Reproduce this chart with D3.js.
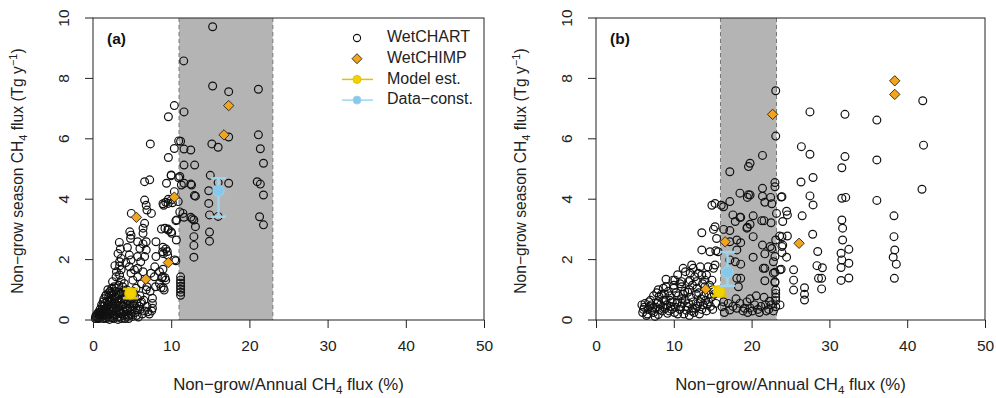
<!DOCTYPE html>
<html>
<head>
<meta charset="utf-8">
<script src="https://cdn.jsdelivr.net/npm/d3@7"></script>
<style>
  body { margin: 0; background: #fff; }
  svg { font-family: "Liberation Sans", Arial, sans-serif; }
</style>
</head>
<body>
<div id="chart"></div>
<script>
// axis ticks
const xTicks = [0, 10, 20, 30, 40, 50];
const yTicks = [0, 2, 4, 6, 8, 10];

// shaded ranges (%)
const shadeA = [11, 23];
const shadeB = [16, 23.2];

// WetCHART ensemble, panel (a): [non-grow/annual %, non-grow flux Tg/y]
const wetchartA = [
  [15.3, 9.71], [11.6, 8.58], [15.3, 7.75], [17.35, 7.56], [21.15, 7.64], [10.4, 7.1], [9.64, 6.73], [11.64, 6.89],
  [17.35, 6.06], [21.15, 6.13], [10.96, 5.93], [11.2, 5.92], [15.2, 5.83], [16.0, 5.72], [21.4, 5.67], [10.4, 5.68],
  [11.64, 5.66], [12.5, 5.63], [9.64, 5.38], [11.64, 5.13], [13.0, 5.13], [21.8, 5.19], [7.33, 5.83],
  [10.0, 4.78], [10.96, 4.71], [11.64, 4.53], [12.5, 4.5], [15.0, 4.79], [16.0, 4.55], [17.35, 4.53], [21.0, 4.58],
  [21.4, 4.5], [21.8, 4.14], [12.97, 4.12], [13.1, 4.1], [14.8, 4.28], [14.8, 3.86],
  [8.95, 3.85], [9.3, 3.9], [10.0, 3.97], [9.64, 4.0], [11.1, 3.58], [11.64, 3.4], [12.5, 3.4], [12.7, 3.35],
  [12.9, 3.31], [10.6, 3.29], [14.9, 3.48], [16.0, 3.43], [21.3, 3.42], [21.8, 3.15], [13.1, 3.09], [14.9, 2.91],
  [14.9, 2.61], [12.9, 2.76], [12.9, 2.47], [12.9, 2.08],
  [8.75, 3.01], [9.6, 3.01], [10.06, 2.87], [10.66, 2.65], [8.95, 2.41], [9.5, 2.27], [9.0, 2.2], [10.6, 1.96],
  [8.95, 1.68], [8.8, 1.4], [9.2, 1.4], [8.7, 1.08], [9.0, 1.06],
  [11.2, 1.43], [11.2, 1.32], [11.2, 1.22], [11.2, 1.12], [11.2, 1.02], [11.2, 0.92], [11.2, 0.82],
  [10.0, 4.8], [11.1, 4.75], [9.4, 4.53], [6.6, 4.58], [7.25, 4.64], [10.4, 4.25], [11.3, 4.47], [12.6, 4.47],
  [9.04, 3.8], [9.6, 3.86], [10.15, 3.88], [6.6, 3.97], [6.8, 3.8], [6.9, 3.64], [4.9, 3.53], [7.47, 3.53],
  [10.9, 3.92], [11.5, 3.53], [10.7, 3.31],
  [9.2, 3.04], [9.6, 2.98], [10.0, 2.92], [6.6, 3.2], [6.4, 3.04], [6.4, 2.87], [4.7, 2.92], [4.86, 2.81],
  [4.8, 2.7], [3.37, 2.57], [5.7, 2.59], [6.4, 2.52], [6.8, 2.59], [8.05, 2.59], [6.0, 2.37],
  [3.6, 2.04], [3.4, 1.93], [3.4, 1.79], [4.65, 2.15], [4.86, 1.99], [5.7, 2.1], [6.1, 1.93], [6.8, 2.32],
  [6.6, 2.1], [8.05, 2.1], [8.9, 2.26], [9.3, 2.35], [9.55, 2.15], [10.45, 1.99], [7.9, 1.76],
  [3.6, 1.66], [3.4, 1.49], [3.6, 1.32], [4.0, 1.21], [4.65, 1.76], [4.86, 1.55], [5.3, 1.66], [5.7, 1.71],
  [6.4, 1.6], [5.7, 1.43], [5.1, 1.32], [7.4, 1.55], [7.85, 1.43], [8.5, 1.6], [8.9, 1.43], [8.5, 1.21],
  [9.3, 1.32], [9.1, 0.99], [7.6, 0.72], [7.6, 0.55], [7.6, 0.39], [6.1, 0.55], [5.7, 0.33], [7.0, 0.27],
  [2.95, 1.43], [2.5, 1.27], [2.7, 1.1], [1.9, 1.0], [1.7, 0.83], [2.3, 0.88], [3.0, 1.6], [2.8, 1.8],
  [3.2, 2.2], [3.5, 2.35], [4.2, 1.9], [4.4, 2.4], [6.2, 1.2], [6.9, 1.1], [7.3, 0.95], [8.0, 1.1],
  [0.3, 0.05], [0.5, 0.1], [0.6, 0.05], [0.8, 0.15], [0.9, 0.08], [1.0, 0.2], [1.1, 0.12], [1.2, 0.3],
  [1.3, 0.05], [1.4, 0.22], [1.5, 0.35], [1.6, 0.15], [1.7, 0.4], [1.8, 0.28], [1.9, 0.1], [2.0, 0.5],
  [2.1, 0.35], [2.2, 0.2], [2.3, 0.6], [2.4, 0.45], [2.5, 0.08], [2.6, 0.3], [2.7, 0.7], [2.8, 0.55],
  [2.9, 0.18], [3.0, 0.4], [3.1, 0.8], [3.2, 0.62], [3.3, 0.25], [3.4, 0.1], [3.5, 0.48], [3.6, 0.9],
  [3.7, 0.7], [3.8, 0.35], [3.9, 0.15], [4.0, 0.55], [4.1, 0.95], [4.2, 0.78], [4.3, 0.3], [4.4, 0.12],
  [4.5, 0.6], [4.7, 0.4], [4.8, 0.2], [5.0, 0.7], [5.2, 0.45], [5.4, 0.25], [5.6, 0.55], [5.8, 0.1],
  [6.0, 0.35], [6.3, 0.2], [7.5, 0.3], [1.5, 0.55], [2.0, 0.75], [2.6, 0.9], [3.0, 1.05], [3.3, 1.15],
  [2.2, 0.95], [1.2, 0.45], [0.7, 0.25], [0.4, 0.15], [0.9, 0.35], [1.8, 0.62], [2.4, 0.82], [3.8, 1.1],
  [4.3, 1.0], [4.6, 0.85], [5.1, 0.95], [5.5, 1.05], [6.0, 0.8], [6.5, 0.65], [6.8, 1.0], [1.1, 0.5],
  [1.4, 0.7], [1.7, 0.05], [2.1, 0.02], [2.7, 0.15], [3.2, 0.02], [3.6, 0.2], [4.1, 0.05], [4.6, 0.15],
  [0.35, 0.12], [0.55, 0.2], [0.75, 0.05], [0.95, 0.25], [1.15, 0.35], [1.25, 0.15], [1.45, 0.45], [1.55, 0.08],
  [1.65, 0.3], [1.85, 0.5], [1.95, 0.2], [2.05, 0.62], [2.15, 0.1], [2.25, 0.42], [2.35, 0.3], [2.45, 0.7],
  [2.55, 0.52], [2.65, 0.05], [2.75, 0.38], [2.85, 0.75], [2.95, 0.28], [3.05, 0.6], [3.15, 0.1], [3.25, 0.45],
  [3.35, 0.85], [3.45, 0.32], [3.55, 0.68], [3.65, 0.05], [3.75, 0.5], [3.85, 0.82], [3.95, 0.28], [4.05, 0.7],
  [4.15, 0.42], [4.25, 0.18], [4.35, 0.62], [4.45, 0.35], [4.55, 0.05], [4.65, 0.72], [4.75, 0.55], [4.9, 0.3],
  [5.05, 0.12], [5.15, 0.58], [5.3, 0.8], [5.45, 0.4], [5.55, 0.15], [5.7, 0.7], [5.9, 0.45], [6.2, 0.6],
  [6.6, 0.3], [6.9, 0.45], [7.2, 0.2], [1.3, 0.6], [1.6, 0.8], [2.0, 0.9], [2.4, 1.05], [2.9, 0.95]
];

const wetchimpA = [[17.35, 7.1], [16.75, 6.13], [10.4, 4.07], [5.55, 3.4], [9.64, 1.9], [6.75, 1.35]];

// [x, y, yLow, yHigh]
const modelA = [[4.8, 0.88, 0.72, 1.03]];
const dataConstA = [[16.05, 4.28, 3.42, 4.69]];

// WetCHART ensemble, panel (b)
const wetchartB = [
  [42.0, 7.26], [27.5, 6.89], [32.0, 6.81], [36.1, 6.62], [42.1, 5.79], [26.4, 5.74], [27.5, 5.49], [32.0, 5.41],
  [31.6, 5.04], [36.1, 5.3], [27.9, 4.72], [26.35, 4.57], [41.9, 4.33], [23.9, 4.08], [27.5, 4.11], [27.9, 3.81],
  [31.6, 4.03], [32.1, 4.06], [36.1, 3.96], [24.6, 3.48], [24.0, 3.26], [26.5, 3.45], [31.6, 3.31], [31.7, 3.04],
  [38.3, 3.45], [24.6, 2.78], [23.9, 2.76], [24.0, 2.48], [23.9, 2.23], [27.85, 2.84], [31.7, 2.65], [38.3, 2.76],
  [24.5, 2.08], [28.5, 2.27], [32.5, 2.34], [31.5, 2.21], [31.6, 1.99], [31.5, 1.74], [32.5, 1.88], [32.5, 1.39],
  [31.5, 1.31], [38.4, 2.32], [38.2, 2.08], [38.6, 1.85], [38.35, 1.38], [23.8, 1.68], [25.4, 1.66], [25.4, 1.32],
  [25.4, 0.99], [28.4, 1.8], [29.1, 1.73], [28.6, 1.38], [29.0, 1.38], [29.0, 1.03], [26.8, 1.07], [26.8, 0.85],
  [26.8, 0.66], [23.65, 0.5],
  [23.1, 7.59], [23.1, 6.09], [21.4, 5.45], [19.8, 5.19], [19.6, 5.08], [23.0, 4.55], [23.0, 4.41], [21.4, 4.36],
  [21.4, 4.1], [19.8, 4.14], [19.45, 4.06], [22.45, 4.06], [23.8, 4.07], [18.5, 4.2], [17.2, 4.91], [21.7, 3.9],
  [22.6, 3.85], [18.6, 3.4], [20.2, 3.45], [21.3, 3.29], [21.6, 3.29], [22.5, 3.22], [23.2, 3.53], [19.8, 3.17],
  [19.45, 3.07], [20.2, 2.76], [18.6, 2.56], [21.4, 2.48], [22.4, 2.43], [23.1, 2.65], [23.6, 2.78], [20.2, 2.08],
  [21.7, 2.19], [18.6, 1.85], [21.7, 1.71], [23.0, 1.58], [23.65, 1.66], [18.6, 1.38], [21.7, 1.3], [23.0, 1.24],
  [23.1, 0.99], [23.1, 0.88], [23.1, 0.75], [23.1, 0.64], [23.1, 0.44],
  [17.2, 3.92], [15.3, 3.86], [16.4, 3.75], [17.6, 3.48], [18.5, 3.4], [17.9, 3.26], [24.5, 3.6], [19.4, 3.04],
  [15.3, 3.09], [16.4, 3.0], [17.2, 2.96], [13.6, 2.89], [15.5, 2.7], [18.1, 2.65], [17.2, 2.59], [22.6, 2.37],
  [23.9, 2.43], [13.6, 2.32], [14.65, 2.26], [15.7, 2.26], [18.1, 2.32], [23.0, 2.1], [22.8, 1.93], [12.3, 1.82],
  [13.4, 1.76], [14.4, 1.76], [15.3, 1.82], [11.2, 1.71], [12.1, 1.55], [13.15, 1.55], [14.2, 1.49], [10.15, 1.32],
  [11.0, 1.27], [12.1, 1.32], [12.9, 1.27], [14.0, 1.32], [14.9, 1.32], [18.1, 1.38], [18.3, 1.1], [21.5, 1.71],
  [22.8, 1.55], [23.0, 1.27], [14.9, 3.8], [16.1, 3.8], [19.6, 4.15], [15.1, 3.0], [15.4, 2.29], [17.2, 1.99],
  [17.9, 1.93], [12.5, 1.71], [15.1, 1.71], [9.9, 1.32], [11.9, 1.27], [12.7, 1.43], [13.6, 1.49], [8.65, 1.05],
  [7.4, 0.8], [8.1, 0.78], [8.8, 0.85], [9.5, 0.8], [10.3, 0.9], [11.2, 0.85], [11.8, 0.92], [5.9, 0.5],
  [6.2, 0.42], [6.9, 0.45], [7.7, 0.42], [8.3, 0.5], [8.9, 0.38], [9.6, 0.45], [10.2, 0.42], [10.9, 0.45],
  [11.6, 0.32], [12.8, 0.38], [13.8, 0.5], [6.0, 0.25], [6.6, 0.2], [7.2, 0.3], [8.0, 0.18], [9.2, 0.22],
  [10.5, 0.2], [11.3, 0.2], [12.0, 0.15], [12.6, 0.25], [16.2, 0.44], [17.2, 0.33], [18.1, 0.39], [19.4, 0.6],
  [20.4, 0.5], [19.1, 0.39], [18.9, 0.3], [19.8, 0.4], [20.8, 0.35], [21.2, 0.45], [21.8, 0.5], [22.2, 0.35],
  [22.8, 0.3], [17.0, 0.55], [16.5, 0.25], [14.5, 0.6], [15.0, 0.35], [9.0, 1.1], [10.0, 1.05], [11.0, 1.1],
  [12.0, 1.0], [13.0, 1.05], [14.0, 1.1], [15.0, 1.0], [8.0, 1.0], [9.5, 0.65], [10.5, 0.6], [11.5, 0.65],
  [12.5, 0.6], [13.5, 0.7], [7.0, 0.65], [8.0, 0.6], [14.5, 0.85], [13.2, 0.9], [9.0, 1.35], [10.5, 1.5],
  [11.5, 1.6], [10.0, 1.15], [6.5, 0.15], [7.6, 0.12], [13.3, 0.2], [14.2, 0.3], [15.4, 0.55], [19.8, 0.7],
  [20.6, 0.8], [21.6, 0.75], [22.3, 0.62], [18.0, 0.7],
  [6.3, 0.55], [6.7, 0.35], [7.1, 0.5], [7.4, 0.25], [7.9, 0.55], [8.5, 0.3], [8.7, 0.65], [9.1, 0.5],
  [9.4, 0.3], [9.8, 0.6], [10.1, 0.25], [10.6, 0.8], [10.8, 0.35], [11.1, 0.55], [11.4, 0.95], [11.7, 0.45],
  [12.2, 0.75], [12.4, 0.4], [12.9, 0.85], [13.1, 0.55], [13.6, 0.35], [13.9, 0.8], [14.3, 0.5], [14.8, 0.75],
  [15.2, 0.85], [9.3, 0.95], [8.4, 0.85], [7.8, 0.9], [10.8, 1.2], [12.4, 1.15], [13.7, 1.2], [14.6, 1.15],
  [16.4, 0.6], [17.6, 0.45], [18.5, 0.55], [19.5, 0.25], [20.1, 0.3], [21.0, 0.25], [21.9, 0.3], [22.5, 0.5],
  [6.1, 0.35], [6.8, 0.6], [7.3, 0.4], [8.2, 0.35], [8.6, 0.45], [9.0, 0.65], [9.7, 0.35], [10.4, 0.55],
  [11.0, 0.7], [11.9, 0.55], [12.3, 0.3], [13.0, 0.45], [13.4, 0.6], [14.1, 0.65], [14.7, 0.45]
];

const wetchimpB = [[38.4, 7.92], [38.4, 7.47], [26.1, 2.54], [22.7, 6.81], [16.6, 2.59], [14.1, 1.02]];

const modelB = [[15.85, 0.94, 0.8, 1.1]];
const dataConstB = [[16.9, 1.58, 1.13, 2.25]];

const width = 996, height = 398;
const chimpFill = '#f2a51c';
const modelColor = '#f2d100';
const modelLine = '#e3c300';
const dataColor = '#86c9ea';
const dataLine = '#9fd4ef';

const svg = d3.select('#chart')
    .append('svg')
    .attr('width', width)
    .attr('height', height);

function diamond(g, x, y, s) {
    g.append('path')
        .attr('d', `M${x},${y - s}L${x + s},${y}L${x},${y + s}L${x - s},${y}Z`)
        .attr('fill', chimpFill)
        .attr('stroke', '#222')
        .attr('stroke-width', 0.9);
}

function errPoint(g, d, x, y, fill, line) {
    const cap = 7.5;
    g.append('line')
        .attr('x1', x(d[0])).attr('x2', x(d[0]))
        .attr('y1', y(d[2])).attr('y2', y(d[3]))
        .attr('stroke', line).attr('stroke-width', 2.5);
    [d[2], d[3]].forEach(v => {
        g.append('line')
            .attr('x1', x(d[0]) - cap).attr('x2', x(d[0]) + cap)
            .attr('y1', y(v)).attr('y2', y(v))
            .attr('stroke', line).attr('stroke-width', 2.5);
    });
    g.append('circle')
        .attr('cx', x(d[0])).attr('cy', y(d[1]))
        .attr('r', 5.8)
        .attr('fill', fill)
        .attr('stroke', line)
        .attr('stroke-width', 1);
}

function drawPanel(left, right, label, shade, wetchart, wetchimp, model, dataConst) {
    const top = 18, bottom = 320;
    const x = d3.scaleLinear().domain([0, 50]).range([left, right]);
    const y = d3.scaleLinear().domain([0, 10]).range([bottom, top]);
    const g = svg.append('g');

    g.append('rect')
        .attr('x', x(shade[0])).attr('y', top)
        .attr('width', x(shade[1]) - x(shade[0]))
        .attr('height', bottom - top)
        .attr('fill', '#b4b4b4');
    shade.forEach(v => {
        g.append('line')
            .attr('x1', x(v)).attr('x2', x(v))
            .attr('y1', top).attr('y2', bottom)
            .attr('stroke', '#777')
            .attr('stroke-dasharray', '4,3');
    });

    g.selectAll('.wc')
        .data(wetchart)
        .enter()
        .append('circle')
        .attr('class', 'wc')
        .attr('cx', d => x(d[0]))
        .attr('cy', d => y(d[1]))
        .attr('r', 3.9)
        .attr('fill', 'none')
        .attr('stroke', '#111')
        .attr('stroke-width', 1.2);

    wetchimp.forEach(d => diamond(g, x(d[0]), y(d[1]), 5.2));
    model.forEach(d => errPoint(g, d, x, y, modelColor, modelLine));
    dataConst.forEach(d => errPoint(g, d, x, y, dataColor, dataLine));

    g.append('rect')
        .attr('x', left).attr('y', top)
        .attr('width', right - left).attr('height', bottom - top)
        .attr('fill', 'none')
        .attr('stroke', '#222')
        .attr('stroke-width', 1);

    const xAxis = g.append('g')
        .attr('transform', `translate(0,${bottom})`)
        .call(d3.axisBottom(x).tickValues(xTicks).tickSize(8).tickPadding(12).tickFormat(d3.format('d')));
    const yAxis = g.append('g')
        .attr('transform', `translate(${left},0)`)
        .call(d3.axisLeft(y).tickValues(yTicks).tickSize(8).tickFormat(d3.format('d')));
    [xAxis, yAxis].forEach(a => {
        a.select('.domain').remove();
        a.selectAll('line').attr('stroke', '#222');
        a.selectAll('text')
            .attr('font-size', 15.5)
            .attr('fill', '#222')
            .attr('font-family', '"Liberation Sans", Arial, sans-serif');
    });
    yAxis.selectAll('text')
        .attr('x', null).attr('dy', null)
        .attr('text-anchor', 'middle')
        .attr('transform', d => `translate(${-28},${y(d)}) rotate(-90)`)
        .attr('y', 0)
        .attr('dominant-baseline', 'middle');
    yAxis.selectAll('.tick').attr('transform', null);
    yAxis.selectAll('.tick line')
        .attr('y1', d => y(d)).attr('y2', d => y(d));

    const xt = g.append('text')
        .attr('x', (left + right) / 2).attr('y', 390)
        .attr('text-anchor', 'middle')
        .attr('font-size', 16.8)
        .attr('fill', '#222');
    xt.append('tspan').text('Non\u2212grow/Annual CH');
    xt.append('tspan').text('4').attr('font-size', 11.5).attr('dy', 4);
    xt.append('tspan').text(' flux (%)').attr('dy', -4);

    const yt = g.append('text')
        .attr('transform', `translate(${left - 70},${(top + bottom) / 2 + 2}) rotate(-90)`)
        .attr('text-anchor', 'middle')
        .attr('font-size', 15.6)
        .attr('fill', '#222');
    yt.append('tspan').text('Non\u2212grow season CH');
    yt.append('tspan').text('4').attr('font-size', 11).attr('dy', 4);
    yt.append('tspan').text(' flux (Tg y').attr('dy', -4);
    yt.append('tspan').text('\u22121').attr('font-size', 11).attr('dy', -6);
    yt.append('tspan').text(')').attr('dy', 6);

    g.append('text')
        .attr('x', left + 14).attr('y', 44)
        .attr('font-size', 15.5)
        .attr('font-weight', 'bold')
        .attr('fill', '#111')
        .text(label);
    return { x, y, g };
}

const pa = drawPanel(93, 484, '(a)', shadeA, wetchartA, wetchimpA, modelA, dataConstA);
drawPanel(596, 985, '(b)', shadeB, wetchartB, wetchimpB, modelB, dataConstB);

// legend in panel (a)
const legendItems = ['WetCHART', 'WetCHIMP', 'Model est.', 'Data\u2212const.'];
const lg = pa.g.append('g').attr('transform', 'translate(357,38)');
legendItems.forEach((name, i) => {
    const ly = i * 20.7;
    if (i === 0) {
        lg.append('circle').attr('cx', 0).attr('cy', ly).attr('r', 3.6)
            .attr('fill', 'none').attr('stroke', '#111').attr('stroke-width', 1.1);
    } else if (i === 1) {
        diamond(lg, 0, ly, 5);
    } else {
        const fill = i === 2 ? modelColor : dataColor;
        const line = i === 2 ? modelLine : dataLine;
        lg.append('line').attr('x1', -15).attr('x2', 16).attr('y1', ly).attr('y2', ly)
            .attr('stroke', line).attr('stroke-width', 1.5);
        lg.append('circle').attr('cx', 0).attr('cy', ly).attr('r', 4)
            .attr('fill', fill).attr('stroke', line);
    }
    lg.append('text')
        .attr('x', 30).attr('y', ly)
        .attr('dominant-baseline', 'middle')
        .attr('font-size', 16)
        .attr('fill', '#222')
        .text(name);
});
</script>
</body>
</html>
